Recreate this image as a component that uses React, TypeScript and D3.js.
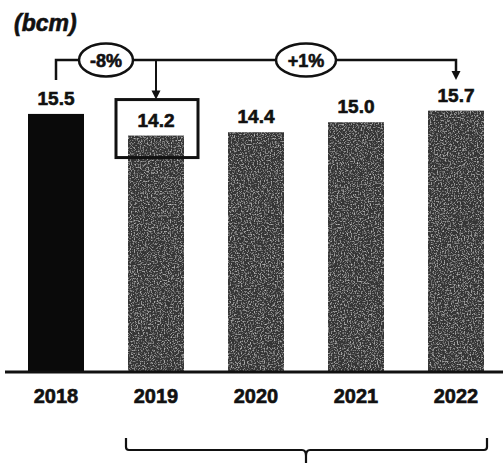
import React from "react";
import * as d3 from "d3";

const years = ["2018", "2019", "2020", "2021", "2022"];
const values = [15.5, 14.2, 14.4, 15.0, 15.7];
const valueLabels = ["15.5", "14.2", "14.4", "15.0", "15.7"];
const unitLabel = "(bcm)";
const changeLabels = ["-8%", "+1%"];
const highlightYear = "2019";

const W = 503;
const H = 463;

export default function App() {
  const x = d3
    .scaleBand<string>()
    .domain(years)
    .range([6, 506])
    .paddingInner(0.44)
    .paddingOuter(0.22);
  const y = d3.scaleLinear().domain([0, 16]).range([372, 105.6]);
  const cx = (yr: string) => (x(yr) as number) + x.bandwidth() / 2;

  const lineY = 60;
  const x0 = cx(years[0]);
  const x1 = cx(years[1]);
  const xN = cx(years[years.length - 1]);
  const hlX = cx(highlightYear);
  const hlV = values[years.indexOf(highlightYear)];
  const boxTop = y(hlV) - 36;
  const boxBot = y(hlV) + 22;

  const braceL = (x(years[1]) as number) - 2;
  const braceR = (x(years[years.length - 1]) as number) + x.bandwidth() + 3;
  const braceMid = (x1 + xN) / 2;

  const font = "'Liberation Sans', Arial, sans-serif";
  const textStyle = { stroke: "#111", strokeWidth: 0.6 };

  const arrow = (ax: number, tipY: number) =>
    `M${ax - 4.5},${tipY - 9} L${ax + 4.5},${tipY - 9} L${ax},${tipY} Z`;

  return (
    <svg width={W} height={H} style={{ position: "absolute", left: 0, top: 0, background: "#fff" }}>
      <defs>
        <filter id="grain" x="0" y="0" width="100%" height="100%">
          <feTurbulence type="fractalNoise" baseFrequency="0.7" numOctaves="2" seed="4" result="noise" />
          <feColorMatrix
            in="noise"
            type="matrix"
            values="0 0 0 0 0.6  0 0 0 0 0.6  0 0 0 0 0.6  2.4 0 0 0 -1.2"
            result="specks"
          />
          <feComposite in="specks" in2="SourceGraphic" operator="in" result="clipped" />
          <feMerge>
            <feMergeNode in="SourceGraphic" />
            <feMergeNode in="clipped" />
          </feMerge>
        </filter>
      </defs>

      <text x={14} y={31} fontFamily={font} fontWeight="bold" fontStyle="italic" fontSize={23} fill="#111" style={textStyle}>
        {unitLabel}
      </text>

      {years.map((yr, i) => (
        <g key={yr}>
          <rect
            x={x(yr)}
            y={y(values[i])}
            width={x.bandwidth()}
            height={y(0) - y(values[i])}
            fill={i === 0 ? "#0a0a0a" : "#353535"}
            filter={i === 0 ? undefined : "url(#grain)"}
          />
          <text
            x={cx(yr)}
            y={y(values[i]) - 9}
            textAnchor="middle"
            fontFamily={font}
            fontWeight="bold"
            fontSize={19}
            fill="#111"
            style={textStyle}
          >
            {valueLabels[i]}
          </text>
          <text
            x={cx(yr)}
            y={403}
            textAnchor="middle"
            fontFamily={font}
            fontWeight="bold"
            fontSize={20}
            fill="#111"
            style={textStyle}
          >
            {yr}
          </text>
        </g>
      ))}

      <line x1={5} x2={503} y1={y(0)} y2={y(0)} stroke="#111" strokeWidth={3} />

      <rect
        x={hlX - 40}
        y={boxTop}
        width={82}
        height={boxBot - boxTop}
        fill="none"
        stroke="#111"
        strokeWidth={3}
      />

      <path
        d={`M${x0},80 V${lineY} H${xN} V${71}`}
        fill="none"
        stroke="#111"
        strokeWidth={2.5}
      />
      <path d={arrow(xN, 80)} fill="#111" />
      <path d={`M${hlX},${lineY} V${boxTop - 8}`} fill="none" stroke="#111" strokeWidth={2} />
      <path d={arrow(hlX, boxTop)} fill="#111" />

      {[
        { cxp: (x0 + x1) / 2, rx: 27, label: changeLabels[0] },
        { cxp: (x1 + xN) / 2, rx: 30, label: changeLabels[1] },
      ].map((e) => (
        <g key={e.label}>
          <ellipse cx={e.cxp} cy={lineY} rx={e.rx} ry={16.5} fill="#fff" stroke="#111" strokeWidth={2.5} />
          <text
            x={e.cxp}
            y={lineY + 6.5}
            textAnchor="middle"
            fontFamily={font}
            fontWeight="bold"
            fontSize={18}
            fill="#111"
            style={textStyle}
          >
            {e.label}
          </text>
        </g>
      ))}

      <path
        d={`M${braceL},438 V447 Q${braceL},450 ${braceL + 3},450 H${braceMid - 4} Q${braceMid},450 ${braceMid},456 V463 M${braceMid},456 Q${braceMid},450 ${braceMid + 4},450 H${braceR - 3} Q${braceR},450 ${braceR},447 V438`}
        fill="none"
        stroke="#111"
        strokeWidth={2.2}
      />
    </svg>
  );
}
